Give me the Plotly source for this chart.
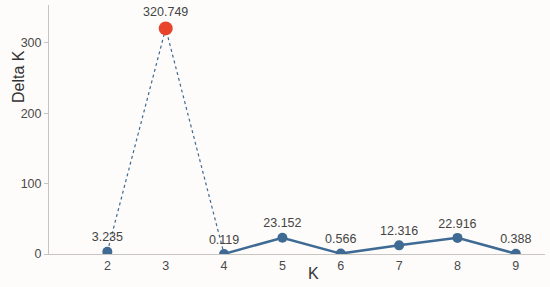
import plotly.graph_objects as go

k_values = [2, 3, 4, 5, 6, 7, 8, 9]
delta_k = [3.235, 320.749, 0.119, 23.152, 0.566, 12.316, 22.916, 0.388]
labels = ["3.235", "320.749", "0.119", "23.152", "0.566", "12.316", "22.916", "0.388"]
peak_k = 3

blue = "#3f6a93"
red = "#e8432b"
font = "Liberation Sans, Arial, sans-serif"

fig = go.Figure()

# thin dashed segments around the peak
fig.add_trace(go.Scatter(
    x=k_values[:3], y=delta_k[:3], mode="lines",
    line=dict(color=blue, width=1.2, dash="dot"), hoverinfo="skip"))

# solid segments after the peak
fig.add_trace(go.Scatter(
    x=k_values[2:], y=delta_k[2:], mode="lines",
    line=dict(color=blue, width=2.5), hoverinfo="skip"))

marker_colors = [red if k == peak_k else blue for k in k_values]
marker_sizes = [14 if k == peak_k else 10 for k in k_values]
fig.add_trace(go.Scatter(
    x=k_values, y=delta_k, mode="markers+text",
    marker=dict(color=marker_colors, size=marker_sizes, opacity=1, line=dict(width=0)),
    text=labels, textposition="top center",
    textfont=dict(family=font, size=12.5, color="#444")))

pw = 550 - 49 - 5
ph = 287 - 5 - 33

fig.update_layout(
    width=550, height=287, autosize=False,
    showlegend=False,
    paper_bgcolor="#fdfcfa", plot_bgcolor="#fdfcfa",
    margin=dict(l=49, r=5, t=5, b=33),
    font=dict(family=font, color="#444"),
    xaxis=dict(range=[1, 9.5], tickvals=k_values, showgrid=False, zeroline=False,
               showline=True, linecolor="#c8c4c0", linewidth=1, automargin=False,
               ticks="", tickfont=dict(size=12.5, color="#4a4a4a"), fixedrange=True),
    yaxis=dict(range=[0, 354], tickvals=[0, 100, 200, 300], showgrid=False,
               zeroline=False, showline=True, linecolor="#c8c4c0", linewidth=1,
               ticks="outside", ticklen=4, tickcolor="#c8c4c0", automargin=False,
               tickfont=dict(size=12.5, color="#4a4a4a"), fixedrange=True),
    annotations=[
        dict(text="Delta K", xref="paper", yref="paper",
             x=(18 - 49) / pw, y=(287 - 33 - 77) / ph,
             xanchor="center", yanchor="middle",
             textangle=-90, showarrow=False, font=dict(size=16, color="#333")),
        dict(text="K", xref="paper", yref="paper",
             x=(313 - 49) / pw, y=-(273 - 254) / ph,
             xanchor="center", yanchor="middle",
             showarrow=False, font=dict(size=16, color="#333")),
    ],
)

# drop the default page margin so the figure sits at the window's corner
fig.write_html("out.html", config={"displayModeBar": False},
               post_script="document.body.style.margin='0';document.body.style.background='#fdfcfa';")
